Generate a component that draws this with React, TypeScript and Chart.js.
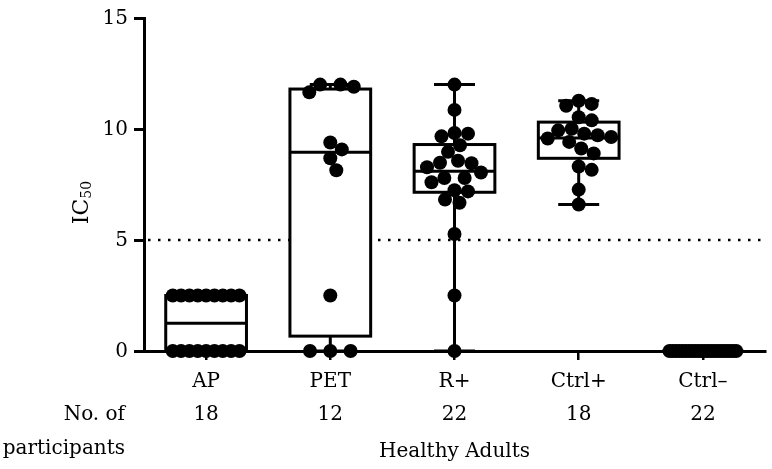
import React, { useEffect, useRef } from 'react';
import { Chart, registerables } from 'chart.js';

Chart.register(...registerables);

// ---------- data ----------
const categories = ['AP', 'PET', 'R+', 'Ctrl+', 'Ctrl–'];
const participantCounts = [18, 12, 22, 18, 22];
const yTickValues = [0, 5, 10, 15];
const thresholdValue = 5;
const groupTitle = 'Healthy Adults';
const rowTitle = ['No. of', 'participants'];

const apValues = [2.5, 2.5, 2.5, 2.5, 2.5, 2.5, 2.5, 2.5, 2.5, 0, 0, 0, 0, 0, 0, 0, 0, 0];
const petValues = [12, 11.65, 11.9, 12, 9.39, 9.08, 8.68, 8.14, 2.5, 0, 0, 0];
const rPlusValues = [12, 10.86, 9.82, 9.67, 9.79, 9.27, 8.97, 8.57, 8.48, 8.28, 8.46, 8.04, 7.79, 7.6, 7.79, 7.24, 7.19, 6.82, 6.68, 5.27, 2.5, 0];
const ctrlPlusValues = [11.05, 11.13, 11.27, 10.53, 10.39, 9.94, 10.01, 9.72, 9.57, 9.79, 9.64, 9.42, 9.12, 8.9, 8.31, 8.16, 7.27, 6.6];
const ctrlMinusValues = [0, 0, 0, 0, 0, 0, 0, 0, 0, 0, 0, 0, 0, 0, 0, 0, 0, 0, 0, 0, 0, 0];
const groupValues = [apValues, petValues, rPlusValues, ctrlPlusValues, ctrlMinusValues];

const boxMin = [0, 0, 0, 6.6, 0];
const boxQ1 = [0, 0.67, 7.15, 8.68, 0];
const boxMedian = [1.25, 8.95, 8.1, 9.6, 0];
const boxQ3 = [2.5, 11.8, 9.3, 10.31, 0];
const boxMax = [2.5, 12, 12, 11.27, 0];

// ---------- style ----------
const FONT = "'DejaVu Serif', serif";
const FONT_SIZE = 20;
const BOX_WIDTH = 0.65; // in category units
const CAP_WIDTH = 0.33;
const POINT_R = 7;

function swarmOffsets(values: number[], pys: number[], r: number, halfW: number): number[] {
  const n = values.length;
  const dx: (number | null)[] = new Array(n).fill(null);
  const placed: { x: number; y: number }[] = [];
  const limit = halfW - r;
  const same = new Map<number, number[]>();
  values.forEach((v, i) => {
    const a = same.get(v) || [];
    a.push(i);
    same.set(v, a);
  });
  same.forEach((idx) => {
    if (idx.length < 2) return;
    const k = idx.length;
    const spacing = Math.min(r * 2.9, (2 * limit) / (k - 1));
    idx.forEach((i, j) => {
      dx[i] = (j - (k - 1) / 2) * spacing;
      placed.push({ x: dx[i] as number, y: pys[i] });
    });
  });
  const order = values
    .map((_, i) => i)
    .filter((i) => dx[i] === null)
    .sort((a, b) => values[b] - values[a]);
  const minD = 1.9 * r;
  for (const i of order) {
    let best = 0;
    let bestScore = -Infinity;
    let found = false;
    for (let s = 0; s <= limit && !found; s += 0.5) {
      const cands = s === 0 ? [0] : [s, -s];
      for (const c of cands) {
        let md = Infinity;
        for (const p of placed) md = Math.min(md, Math.hypot(p.x - c, p.y - pys[i]));
        if (md >= minD) {
          best = c;
          found = true;
          break;
        }
        if (md > bestScore) {
          bestScore = md;
          best = c;
        }
      }
    }
    dx[i] = best;
    placed.push({ x: best, y: pys[i] });
  }
  return dx as number[];
}

const boxPlugin = {
  id: 'boxWhisker',
  beforeDatasetsDraw(chart: any) {
    const { ctx, chartArea, scales } = chart;
    const x = scales.x;
    const y = scales.y;
    ctx.save();
    // threshold dotted line
    const ty = y.getPixelForValue(thresholdValue);
    ctx.strokeStyle = '#000';
    ctx.setLineDash([2.5, 7.5]);
    ctx.lineWidth = 2.5;
    ctx.beginPath();
    ctx.moveTo(chartArea.left + 4, ty);
    ctx.lineTo(chartArea.right, ty);
    ctx.stroke();
    ctx.setLineDash([]);
    ctx.lineWidth = 3;
    const unit = x.getPixelForValue(1) - x.getPixelForValue(0);
    const halfBox = (unit * BOX_WIDTH) / 2;
    const halfCap = (unit * CAP_WIDTH) / 2;
    categories.forEach((_, i) => {
      const cx = x.getPixelForValue(i + 0.5);
      const pMin = y.getPixelForValue(boxMin[i]);
      const pQ1 = y.getPixelForValue(boxQ1[i]);
      const pMed = y.getPixelForValue(boxMedian[i]);
      const pQ3 = y.getPixelForValue(boxQ3[i]);
      const pMax = y.getPixelForValue(boxMax[i]);
      ctx.beginPath();
      ctx.moveTo(cx, pQ3);
      ctx.lineTo(cx, pMax);
      ctx.moveTo(cx - halfCap, pMax);
      ctx.lineTo(cx + halfCap, pMax);
      ctx.moveTo(cx, pQ1);
      ctx.lineTo(cx, pMin);
      ctx.moveTo(cx - halfCap, pMin);
      ctx.lineTo(cx + halfCap, pMin);
      ctx.stroke();
      ctx.fillStyle = '#fff';
      ctx.fillRect(cx - halfBox, pQ3, halfBox * 2, pQ1 - pQ3);
      ctx.strokeRect(cx - halfBox, pQ3, halfBox * 2, pQ1 - pQ3);
      ctx.beginPath();
      ctx.moveTo(cx - halfBox, pMed);
      ctx.lineTo(cx + halfBox, pMed);
      ctx.stroke();
    });
    ctx.restore();
  },
};

const textPlugin = {
  id: 'extraText',
  afterDraw(chart: any) {
    const { ctx, chartArea } = chart;
    ctx.save();
    ctx.fillStyle = '#000';
    // y axis title IC50
    const cx = 80;
    const cy = (chartArea.top + chartArea.bottom) / 2 + 18;
    ctx.translate(cx, cy);
    ctx.rotate(-Math.PI / 2);
    ctx.textBaseline = 'alphabetic';
    ctx.textAlign = 'left';
    const mainFont = `22px ${FONT}`;
    const subFont = `14px ${FONT}`;
    ctx.font = mainFont;
    const w1 = ctx.measureText('IC').width;
    ctx.font = subFont;
    const w2 = ctx.measureText('50').width;
    const start = -(w1 + w2) / 2;
    ctx.font = mainFont;
    ctx.fillText('IC', start, 8);
    ctx.font = subFont;
    ctx.fillText('50', start + w1, 11);
    ctx.setTransform(1, 0, 0, 1, 0, 0);
    // row title
    ctx.font = `${FONT_SIZE}px ${FONT}`;
    ctx.textAlign = 'right';
    ctx.textBaseline = 'middle';
    const rx = chartArea.left - 19;
    const rowH = 33.5;
    ctx.fillText(rowTitle[0], rx, chartArea.bottom + 14 + rowH * 1.5);
    ctx.fillText(rowTitle[1], rx, chartArea.bottom + 14 + rowH * 2.5);
    ctx.restore();
  },
};

export default function App() {
  const canvasRef = useRef<HTMLCanvasElement | null>(null);
  useEffect(() => {
    const canvas = canvasRef.current;
    if (!canvas) return;
    const datasets = groupValues.map((vals, g) => ({
      label: categories[g],
      data: vals.map((v) => ({ x: g + 0.5, y: v })),
      backgroundColor: '#000',
      borderColor: '#000',
      borderWidth: 0,
      pointRadius: POINT_R,
      pointHoverRadius: POINT_R,
      showLine: false,
      clip: false as any,
    }));
    const chart = new Chart(canvas, {
      type: 'scatter',
      data: { datasets },
      plugins: [boxPlugin, textPlugin],
      options: {
        animation: false,
        responsive: false,
        events: [],
        layout: { padding: { top: 13, right: 2, bottom: 0, left: 0 } },
        plugins: { legend: { display: false }, tooltip: { enabled: false } },
        scales: {
          x: {
            type: 'linear',
            min: 0,
            max: categories.length,
            afterBuildTicks: (axis: any) => {
              axis.ticks = categories.map((_, i) => ({ value: i + 0.5 }));
            },
            afterFit: (axis: any) => {
              axis.height = 118;
            },
            ticks: {
              autoSkip: false,
              maxRotation: 0,
              minRotation: 0,
              padding: 5,
              color: '#000',
              font: { family: FONT, size: FONT_SIZE, lineHeight: 33.5 / FONT_SIZE },
              callback: (_v: any, index: number) => [categories[index], String(participantCounts[index])],
            },
            grid: {
              display: true,
              drawOnChartArea: false,
              drawTicks: true,
              tickLength: 9,
              lineWidth: 2.5,
              color: '#000',
            },
            border: { display: true, color: '#000', width: 3 },
            title: {
              display: true,
              text: groupTitle,
              color: '#000',
              font: { family: FONT, size: FONT_SIZE, lineHeight: 1.2 },
              padding: { top: 0, bottom: 5 },
            },
          },
          y: {
            type: 'linear',
            min: yTickValues[0],
            max: yTickValues[yTickValues.length - 1],
            afterBuildTicks: (axis: any) => {
              axis.ticks = yTickValues.map((v) => ({ value: v }));
            },
            afterFit: (axis: any) => {
              axis.width = 144;
            },
            ticks: {
              padding: 6,
              labelOffset: 1,
              color: '#000',
              font: { family: FONT, size: FONT_SIZE },
              callback: (v: any) => String(v),
            },
            grid: {
              display: true,
              drawOnChartArea: false,
              drawTicks: true,
              tickLength: 10,
              lineWidth: 3,
              color: '#000',
            },
            border: { display: true, color: '#000', width: 3 },
          },
        },
      },
    } as any);

    // beeswarm arrangement of the points inside each column
    const xs: any = chart.scales.x;
    const ys: any = chart.scales.y;
    const unit = xs.getPixelForValue(1) - xs.getPixelForValue(0);
    groupValues.forEach((vals, g) => {
      const pys = vals.map((v) => ys.getPixelForValue(v));
      const offs = swarmOffsets(vals, pys, POINT_R, (unit * BOX_WIDTH) / 2);
      (chart.data.datasets[g] as any).data = vals.map((v, i) => ({ x: g + 0.5 + offs[i] / unit, y: v }));
    });
    chart.update('none');

    return () => {
      chart.destroy();
    };
  }, []);

  return (
    <div style={{ position: 'fixed', left: 0, top: 0, width: 772, height: 469, background: '#fff' }}>
      <canvas ref={canvasRef} width={772} height={469} style={{ display: 'block' }} />
    </div>
  );
}
